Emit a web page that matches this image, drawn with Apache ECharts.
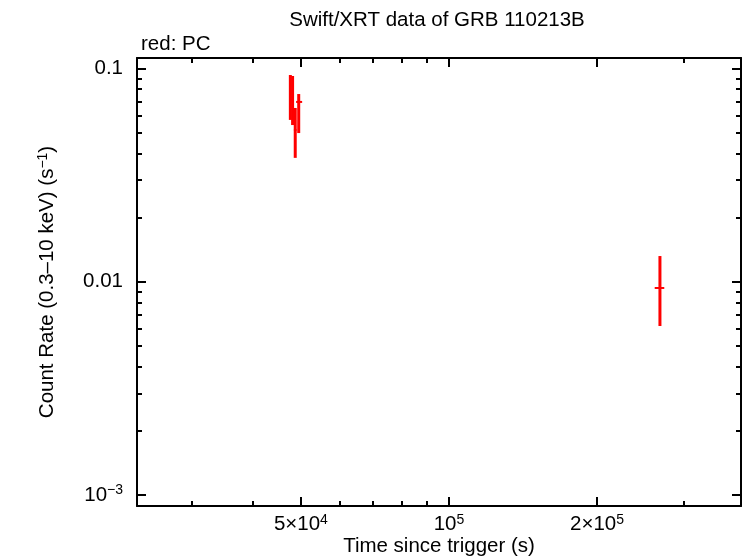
<!DOCTYPE html>
<html>
<head>
<meta charset="utf-8">
<script src="https://cdn.jsdelivr.net/npm/echarts@6/dist/echarts.min.js"></script>
<style>html,body{margin:0;padding:0;background:#fff}#c{width:746px;height:558px}</style>
</head>
<body>
<div id="c"></div>
<script>
// ---- data ----
const times   = [47600, 48100, 48700, 49500, 268500];
const timeLo  = [47300, 47800, 48400, 48900, 262000];
const timeHi  = [47900, 48400, 49000, 50300, 274000];
const rates   = [0.0735, 0.0712, 0.0515, 0.0697, 0.00935];
const rateLo  = [0.0574, 0.0543, 0.0381, 0.0498, 0.0062];
const rateHi  = [0.0932, 0.0922, 0.0653, 0.0759, 0.0132];

const xMajorTicks = [50000, 100000, 200000];
const xMajorLabels = ['5×10^4', '10^5', '2×10^5'];
const xMinorTicks = [30000, 40000, 60000, 70000, 80000, 90000, 300000];
const yMajorTicks = [0.001, 0.01, 0.1];
const yMajorLabels = ['10^−3', '0.01', '0.1'];
const yMinorTicks = [0.002,0.003,0.004,0.005,0.006,0.007,0.008,0.009,0.02,0.03,0.04,0.05,0.06,0.07,0.08,0.09];

const xMin = 23220, xMax = 392400;
const yMin = 8.88e-4, yMax = 0.1120;

const FONT = 'Liberation Sans, Arial, Helvetica, sans-serif';
const FS = 20.5;

function toRich(s) {
  const i = s.indexOf('^');
  if (i < 0) return '{n|' + s + '}';
  return '{n|' + s.slice(0, i) + '}{s|' + s.slice(i + 1) + '}';
}
function labelFor(ticks, labels) {
  return function (v) {
    let best = 0, bd = Infinity;
    for (let k = 0; k < ticks.length; k++) {
      const d = Math.abs(Math.log10(v) - Math.log10(ticks[k]));
      if (d < bd) { bd = d; best = k; }
    }
    return toRich(labels[best]);
  };
}
const rich = {
  n: { fontSize: FS, fontFamily: FONT, color: '#000', lineHeight: 23 },
  s: { fontSize: 14, fontFamily: FONT, color: '#000', verticalAlign: 'top', lineHeight: 15 }
};

function xAx(pos, ticks, len, label, line) {
  return {
    type: 'log', logBase: 10, min: xMin, max: xMax, position: pos, gridIndex: 0,
    name: label ? 'Time since trigger (s)' : '',
    nameLocation: 'middle', nameGap: 30, nameMoveOverlap: false,
    nameTextStyle: { fontSize: FS, fontFamily: FONT, color: '#000' },
    axisLine: { show: line, onZero: false, lineStyle: { color: '#000', width: 2 } },
    axisTick: { show: true, inside: true, length: len, customValues: ticks, lineStyle: { color: '#000', width: 2 } },
    axisLabel: { show: label, customValues: ticks, margin: 7, formatter: labelFor(xMajorTicks, xMajorLabels), rich: rich },
    splitLine: { show: false }, minorTick: { show: false }
  };
}
function yAx(pos, ticks, len, label, line) {
  return {
    type: 'log', logBase: 10, min: yMin, max: yMax, position: pos, gridIndex: 0,
    name: label ? '{n|Count Rate (0.3–10 keV) (s}{s|−1}{n|)}' : '',
    nameLocation: 'middle', nameGap: 78, nameRotate: 90, nameMoveOverlap: false,
    nameTextStyle: { fontSize: FS, fontFamily: FONT, color: '#000', rich: rich },
    axisLine: { show: line, onZero: false, lineStyle: { color: '#000', width: 2 } },
    axisTick: { show: true, inside: true, length: len, customValues: ticks, lineStyle: { color: '#000', width: 2 } },
    axisLabel: { show: label, customValues: ticks, margin: 14, formatter: labelFor(yMajorTicks, yMajorLabels), rich: rich },
    splitLine: { show: false }, minorTick: { show: false }
  };
}

const data = times.map((t, i) => [t, rates[i], timeLo[i], timeHi[i], rateLo[i], rateHi[i]]);

const chart = echarts.init(document.getElementById('c'), null, { renderer: 'canvas' });
chart.setOption({
  animation: false,
  backgroundColor: '#fff',
  title: [
    { text: 'Swift/XRT data of GRB 110213B', left: 432, top: 5, textAlign: 'center',
      textStyle: { fontSize: FS, fontWeight: 'normal', fontFamily: FONT, color: '#000' } },
    { text: 'red: PC', left: 136, top: 29,
      textStyle: { fontSize: FS, fontWeight: 'normal', fontFamily: FONT, color: '#000' } }
  ],
  grid: { left: 137, right: 5, top: 58, bottom: 52, containLabel: false, outerBoundsMode: 'none' },
  xAxis: [
    xAx('bottom', xMajorTicks, 9, true, true),
    xAx('bottom', xMinorTicks, 5, false, false),
    xAx('top', xMajorTicks, 9, false, true),
    xAx('top', xMinorTicks, 5, false, false)
  ],
  yAxis: [
    yAx('left', yMajorTicks, 9, true, true),
    yAx('left', yMinorTicks, 5, false, false),
    yAx('right', yMajorTicks, 9, false, true),
    yAx('right', yMinorTicks, 5, false, false)
  ],
  series: [{
    type: 'custom',
    xAxisIndex: 0, yAxisIndex: 0,
    data: data,
    clip: true,
    renderItem: function (params, api) {
      const t = api.value(0), r = api.value(1);
      const pLo = api.coord([t, api.value(4)]);
      const pHi = api.coord([t, api.value(5)]);
      const hL = api.coord([api.value(2), r]);
      const hR = api.coord([api.value(3), r]);
      return { type: 'group', children: [
        { type: 'line', shape: { x1: pLo[0], y1: pLo[1], x2: pHi[0], y2: pHi[1] }, style: { stroke: '#ff0000', lineWidth: 3 } },
        { type: 'line', shape: { x1: hL[0], y1: hL[1], x2: hR[0], y2: hR[1] }, style: { stroke: '#ff0000', lineWidth: 2 } }
      ]};
    }
  }]
});
</script>
</body>
</html>
